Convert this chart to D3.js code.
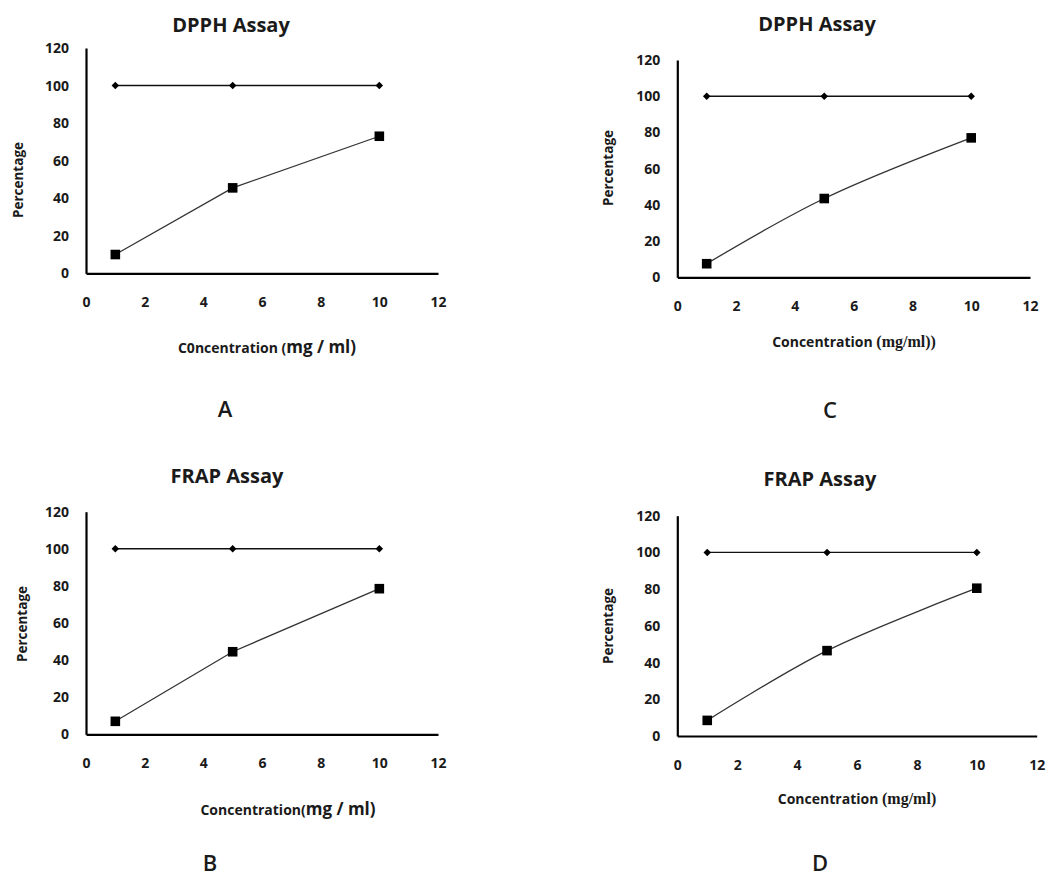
<!DOCTYPE html>
<html>
<head>
<meta charset="utf-8">
<script src="https://cdn.jsdelivr.net/npm/d3@7"></script>
<style>
  html, body { margin: 0; padding: 0; background: #fff; }
  svg { display: block; }
  text { fill: #1a1a1a; }
</style>
</head>
<body>
<svg id="chart" width="1048" height="879"></svg>
<script>
// ---- data ----
const concentrations = [1, 5, 10];
const controlValues = [100, 100, 100];
const dpphA = [10, 45.5, 73];
const frapB = [7, 44.5, 78.5];
const dpphC = [7.5, 43.5, 77];
const frapD = [8.5, 46.5, 80.5];
const xTicks = [0, 2, 4, 6, 8, 10, 12];
const yTicks = [0, 20, 40, 60, 80, 100, 120];
const titles = ["DPPH Assay", "FRAP Assay", "DPPH Assay", "FRAP Assay"];
const panelLetters = ["A", "B", "C", "D"];

// ---- layout (positions only) ----
const panels = [
  { values: dpphA, title: titles[0], letter: panelLetters[0], smooth: false,
    x0: 86, x1: 438, yBottom: 273.3, yTop: 48,
    titleX: 231, titleY: 32, ylabX: 22.5, ylabY: 180,
    xlab: [{t: "C0ncentration (", f: "Open Sans", s: 14}, {t: "mg / ml)", f: "Open Sans", s: 17}],
    xlabX: 267, xlabY: 353, letterX: 225, letterY: 417 },
  { values: frapB, title: titles[1], letter: panelLetters[1], smooth: false,
    x0: 86, x1: 438, yBottom: 734.3, yTop: 511.7,
    titleX: 227, titleY: 483, ylabX: 27, ylabY: 624,
    xlab: [{t: "Concentration(", f: "Open Sans", s: 14}, {t: "mg / ml)", f: "Open Sans", s: 17}],
    xlabX: 288, xlabY: 815, letterX: 210, letterY: 871 },
  { values: dpphC, title: titles[2], letter: panelLetters[2], smooth: true,
    x0: 677.3, x1: 1030, yBottom: 277.3, yTop: 60,
    titleX: 817, titleY: 31, ylabX: 613, ylabY: 168,
    xlab: [{t: "Concentration ", f: "Open Sans", s: 14}, {t: "(mg/ml))", f: "Liberation Serif", s: 16}],
    xlabX: 854, xlabY: 347, letterX: 830, letterY: 418 },
  { values: frapD, title: titles[3], letter: panelLetters[3], smooth: true,
    x0: 677.3, x1: 1036.7, yBottom: 736, yTop: 515.7,
    titleX: 820, titleY: 486, ylabX: 613, ylabY: 626,
    xlab: [{t: "Concentration ", f: "Open Sans", s: 14}, {t: "(mg/ml)", f: "Liberation Serif", s: 16}],
    xlabX: 857, xlabY: 804, letterX: 820, letterY: 871 }
];

const svg = d3.select("#chart");

panels.forEach(p => {
  const g = svg.append("g");
  const x = d3.scaleLinear().domain([0, 12]).range([p.x0, p.x1]);
  const y = d3.scaleLinear().domain([0, 120]).range([p.yBottom, p.yTop]);

  // axes
  const xAxis = g.append("g")
    .attr("transform", `translate(0,${p.yBottom})`)
    .call(d3.axisBottom(x).tickValues(xTicks).tickSize(0).tickSizeOuter(0));
  xAxis.select(".domain").attr("stroke", "#000").attr("stroke-width", 2.2);
  xAxis.selectAll("text")
    .attr("y", 34).attr("dy", 0)
    .attr("font-family", "Open Sans").attr("font-weight", "bold").attr("font-size", 14)
    .attr("fill", "#1a1a1a");

  const yAxis = g.append("g")
    .attr("transform", `translate(${p.x0},0)`)
    .call(d3.axisLeft(y).tickValues(yTicks).tickSize(0).tickSizeOuter(0).tickPadding(17));
  yAxis.select(".domain").attr("stroke", "#000").attr("stroke-width", 2.2);
  yAxis.selectAll("text")
    .attr("font-family", "Open Sans").attr("font-weight", "bold").attr("font-size", 14)
    .attr("fill", "#1a1a1a");

  // series lines
  const ctrl = concentrations.map((c, i) => [c, controlValues[i]]);
  const sample = concentrations.map((c, i) => [c, p.values[i]]);
  const straight = d3.line().x(d => x(d[0])).y(d => y(d[1]));
  const curved = d3.line().x(d => x(d[0])).y(d => y(d[1])).curve(d3.curveCatmullRom.alpha(0.5));

  g.append("path").attr("d", straight(ctrl))
    .attr("fill", "none").attr("stroke", "#111").attr("stroke-width", 1.4);
  g.append("path").attr("d", (p.smooth ? curved : straight)(sample))
    .attr("fill", "none").attr("stroke", "#333").attr("stroke-width", 1.3);

  // markers
  g.selectAll(".diamond").data(ctrl).join("path")
    .attr("d", d3.symbol(d3.symbolSquare, 28)())
    .attr("transform", d => `translate(${x(d[0])},${y(d[1])}) rotate(45)`)
    .attr("fill", "#000");
  g.selectAll(".sq").data(sample).join("path")
    .attr("d", d3.symbol(d3.symbolSquare, 92)())
    .attr("transform", d => `translate(${x(d[0])},${y(d[1])})`)
    .attr("fill", "#000");

  // title
  g.append("text").attr("x", p.titleX).attr("y", p.titleY)
    .attr("text-anchor", "middle")
    .attr("font-family", "Open Sans").attr("font-weight", "bold").attr("font-size", 20)
    .text(p.title);

  // y label
  g.append("text")
    .attr("transform", `translate(${p.ylabX},${p.ylabY}) rotate(-90)`)
    .attr("text-anchor", "middle")
    .attr("font-family", "Open Sans").attr("font-weight", "bold").attr("font-size", 13.5)
    .text("Percentage");

  // x label
  const xl = g.append("text").attr("x", p.xlabX).attr("y", p.xlabY)
    .attr("text-anchor", "middle").attr("font-weight", "bold");
  p.xlab.forEach(part => {
    xl.append("tspan").attr("font-family", part.f).attr("font-size", part.s).text(part.t);
  });

  // panel letter
  g.append("text").attr("x", p.letterX).attr("y", p.letterY)
    .attr("text-anchor", "middle")
    .attr("font-family", "Open Sans").attr("font-weight", 600).attr("font-size", 22)
    .text(p.letter);
});
</script>
</body>
</html>
